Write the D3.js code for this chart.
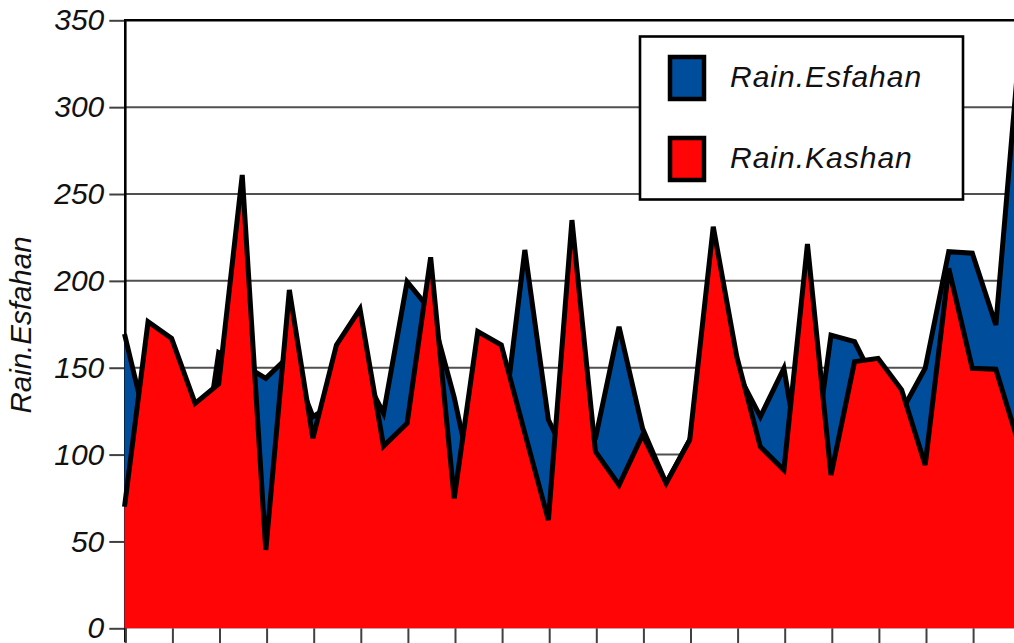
<!DOCTYPE html>
<html>
<head>
<meta charset="utf-8">
<script src="https://cdn.jsdelivr.net/npm/d3@7"></script>
<style>
  html, body { margin: 0; padding: 0; background: #fff; overflow: hidden; }
  svg { display: block; }
  text { font-family: "Liberation Sans", Arial, sans-serif; font-style: italic; }
</style>
</head>
<body>
<svg id="chart" width="1014" height="643"></svg>
<script>
// ---- data ----
const periods = [1,2,3,4,5,6,7,8,9,10,11,12,13,14,15,16,17,18,19,20,21,22,23,24,25,26,27,28,29,30,31,32,33,34,35,36,37,38,39];
const rainEsfahan = [169.4,113,100,66,158.7,152,143.9,157,121.8,130,150,123.8,199.5,183,133,70,107,217.8,120,92,109.4,173.6,115,83.5,108.4,150,148,121.8,149.7,70,168.8,165,138,125,149.7,216.8,215.9,174.6,334];
const rainKashan = [70,176.5,166.9,129.5,140.6,261,45.1,194.8,109.4,163.1,183.8,104.9,118,213.6,74.8,170.8,163.1,112.3,62.3,235,101.7,82.5,111.3,83.5,108.4,231.2,156.4,104.5,91.1,221.2,88.3,153.5,155.4,137.3,94,207.2,149.7,149.1,105];
const yTicks = [0,50,100,150,200,250,300,350];
const seriesNames = ["Rain.Esfahan","Rain.Kashan"];
const seriesColors = ["#004d9c","#ff0505"];
const yTitle = "Rain.Esfahan";

// ---- layout ----
const svg = d3.select("#chart");
const plotLeft = 124.5, plotTop = 20.3, plotBottom = 628.3, plotRight = 1014;
const step = 23.55;
const x = d3.scaleLinear().domain([0, periods.length - 1]).range([plotLeft, plotLeft + step * (periods.length - 1)]);
const y = d3.scaleLinear().domain([0, 350]).range([plotBottom, plotTop]);

// gridlines
svg.append("g").selectAll("line").data(yTicks.filter(d => d > 0 && d < 350)).join("line")
  .attr("x1", plotLeft).attr("x2", plotRight)
  .attr("y1", d => y(d)).attr("y2", d => y(d))
  .attr("stroke", "#505050").attr("stroke-width", 2);

// left axis with ticks
const yAxis = d3.axisLeft(y).tickValues(yTicks).tickSize(16).tickPadding(4).tickFormat(d3.format("d"));
const gy = svg.append("g").attr("transform", `translate(${plotLeft + 0.8},0)`).call(yAxis);
gy.select(".domain").remove();
gy.selectAll(".tick line").attr("stroke", "#404040").attr("stroke-width", 2);
gy.selectAll(".tick text").attr("font-size", 30).attr("fill", "#111")
  .attr("font-family", "Liberation Sans, Arial, sans-serif").attr("font-style", "italic")
  .attr("x", -21);

// axis line and top frame
svg.append("line").attr("x1", plotLeft + 0.8).attr("x2", plotLeft + 0.8).attr("y1", plotTop - 1.2).attr("y2", plotBottom + 14)
  .attr("stroke", "#000").attr("stroke-width", 2.6);
svg.append("line").attr("x1", plotLeft).attr("x2", plotRight).attr("y1", plotTop).attr("y2", plotTop)
  .attr("stroke", "#000").attr("stroke-width", 2.6);

// bottom x ticks
const xAxis = d3.axisBottom(x).tickValues(periods.map((d, i) => i).filter(i => i % 2 === 0)).tickSize(16).tickFormat("");
const gx = svg.append("g").attr("transform", `translate(0.8,${plotBottom})`).call(xAxis);
gx.select(".domain").remove();
gx.selectAll(".tick line").attr("stroke", "#404040").attr("stroke-width", 2);

// areas
const area = d3.area().x((d, i) => x(i)).y0(y(0)).y1(d => y(d));
const line = d3.line().x((d, i) => x(i)).y(d => y(d));
[rainEsfahan, rainKashan].forEach((vals, k) => {
  svg.append("path").attr("d", area(vals)).attr("fill", seriesColors[k]).attr("stroke", "none");
  svg.append("path").attr("d", line(vals)).attr("fill", "none").attr("stroke", "#000")
    .attr("stroke-width", 5).attr("stroke-linejoin", "miter");
});

// y title
svg.append("text").attr("transform", "translate(31,325) rotate(-90)")
  .attr("text-anchor", "middle").attr("font-size", 29.5).attr("fill", "#111").text(yTitle);

// legend
const lg = svg.append("g");
lg.append("rect").attr("x", 640).attr("y", 36.5).attr("width", 323).attr("height", 163)
  .attr("fill", "#fff").attr("stroke", "#000").attr("stroke-width", 2.6);
seriesNames.forEach((name, k) => {
  const cy = 78 + k * 81;
  lg.append("rect").attr("x", 670).attr("y", cy - 21).attr("width", 34).attr("height", 42)
    .attr("fill", seriesColors[k]).attr("stroke", "#000").attr("stroke-width", 4.5);
  lg.append("text").attr("x", 730).attr("y", cy + 8.5).attr("font-size", 30)
    .attr("letter-spacing", 1).attr("fill", "#111").text(name);
});
</script>
</body>
</html>
